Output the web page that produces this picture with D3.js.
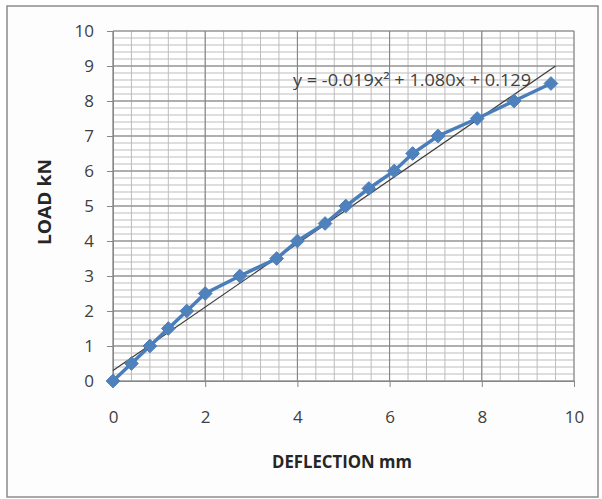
<!DOCTYPE html>
<html>
<head>
<meta charset="utf-8">
<script src="https://cdn.jsdelivr.net/npm/d3@7"></script>
<style>
  body { margin: 0; background: #fff; }
  text { font-family: "Open Sans", "Liberation Sans", sans-serif; }
</style>
</head>
<body>
<svg id="chart"></svg>
<script>
// Load test readings
const deflection = [0, 0.4, 0.8, 1.2, 1.6, 2.0, 2.75, 3.55, 4.0, 4.6, 5.05, 5.55, 6.1, 6.5, 7.05, 7.9, 8.7, 9.5];
const load = [0, 0.5, 1.0, 1.5, 2.0, 2.5, 3.0, 3.5, 4.0, 4.5, 5.0, 5.5, 6.0, 6.5, 7.0, 7.5, 8.0, 8.5];

// Trendline as drawn in the picture
const trendX = [0, 9.6];
const trendY = [0.3, 9.0];
const trendLabel = "y = -0.019x\u00b2 + 1.080x + 0.129";

const xTicks = [0, 2, 4, 6, 8, 10];
const yTicks = [0, 1, 2, 3, 4, 5, 6, 7, 8, 9, 10];

const W = 602, H = 499;
const margin = { top: 31, right: 28, bottom: 118, left: 113 };
const width = W - margin.left - margin.right;
const height = H - margin.top - margin.bottom;

const svg = d3.select('#chart')
    .attr('width', W)
    .attr('height', H);

// Outer chart frame
svg.append('rect')
    .attr('x', 7).attr('y', 6)
    .attr('width', 591).attr('height', 491)
    .attr('fill', '#fdfdfd')
    .attr('stroke', '#8c8c8c')
    .attr('stroke-width', 1.5);

const g = svg.append('g')
    .attr('transform', `translate(${margin.left},${margin.top})`);

const x = d3.scaleLinear().domain([0, 10]).range([0, width]);
const y = d3.scaleLinear().domain([0, 10]).range([height, 0]);

g.append('rect')
    .attr('width', width).attr('height', height)
    .attr('fill', '#fff');

// Minor grid
g.append('g')
    .selectAll('line')
    .data(d3.range(0, 10.001, 0.2))
    .join('line')
    .attr('x1', 0).attr('x2', width)
    .attr('y1', d => y(d)).attr('y2', d => y(d))
    .attr('stroke', '#bdbdbd').attr('stroke-width', 1);

g.append('g')
    .selectAll('line')
    .data(d3.range(0, 10.001, 0.4))
    .join('line')
    .attr('x1', d => x(d)).attr('x2', d => x(d))
    .attr('y1', 0).attr('y2', height)
    .attr('stroke', '#bdbdbd').attr('stroke-width', 1);

// Major grid
g.append('g')
    .selectAll('line')
    .data(yTicks)
    .join('line')
    .attr('x1', 0).attr('x2', width)
    .attr('y1', d => y(d)).attr('y2', d => y(d))
    .attr('stroke', '#808080').attr('stroke-width', 1);

g.append('g')
    .selectAll('line')
    .data(xTicks)
    .join('line')
    .attr('x1', d => x(d)).attr('x2', d => x(d))
    .attr('y1', 0).attr('y2', height)
    .attr('stroke', '#808080').attr('stroke-width', 1);

// Axes
const xAxis = g.append('g')
    .attr('transform', `translate(0,${height})`)
    .call(d3.axisBottom(x).tickValues(xTicks).tickSize(6).tickPadding(24));
const yAxis = g.append('g')
    .call(d3.axisLeft(y).tickValues(yTicks).tickSize(6).tickPadding(13));

[xAxis, yAxis].forEach(a => {
    a.select('.domain').attr('stroke', '#868686');
    a.selectAll('.tick line').attr('stroke', '#868686');
    a.selectAll('.tick text')
        .attr('fill', '#404040')
        .style('font-size', '17px');
});

// Trendline
g.append('path')
    .datum(trendX.map((d, i) => [d, trendY[i]]))
    .attr('fill', 'none')
    .attr('stroke', '#3a3a3a')
    .attr('stroke-width', 1.2)
    .attr('d', d3.line().x(d => x(d[0])).y(d => y(d[1])));

// Series line
const pts = deflection.map((d, i) => [d, load[i]]);
g.append('path')
    .datum(pts)
    .attr('fill', 'none')
    .attr('stroke', '#4a7ebb')
    .attr('stroke-width', 3.5)
    .attr('d', d3.line().x(d => x(d[0])).y(d => y(d[1])));

// Diamond markers
g.append('g')
    .selectAll('path')
    .data(pts)
    .join('path')
    .attr('transform', d => `translate(${x(d[0])},${y(d[1])})`)
    .attr('d', d3.symbol().type(d3.symbolDiamond2).size(120))
    .attr('fill', '#4f81bd')
    .attr('stroke', '#4a7ebb')
    .attr('stroke-width', 1);

// Trend equation
g.append('text')
    .attr('x', 180).attr('y', 55)
    .attr('fill', '#404040')
    .attr('textLength', 238)
    .attr('lengthAdjust', 'spacingAndGlyphs')
    .style('font-size', '17px')
    .text(trendLabel);

// Axis titles
svg.append('text')
    .attr('x', 342).attr('y', 468)
    .attr('text-anchor', 'middle')
    .attr('fill', '#262626')
    .attr('textLength', 140)
    .attr('lengthAdjust', 'spacingAndGlyphs')
    .style('font-size', '17px')
    .style('font-weight', 'bold')
    .text('DEFLECTION mm');

svg.append('text')
    .attr('transform', 'translate(51,202) rotate(-90)')
    .attr('text-anchor', 'middle')
    .attr('fill', '#262626')
    .attr('textLength', 86)
    .attr('lengthAdjust', 'spacingAndGlyphs')
    .style('font-size', '17px')
    .style('font-weight', 'bold')
    .text('LOAD kN');
</script>
</body>
</html>
